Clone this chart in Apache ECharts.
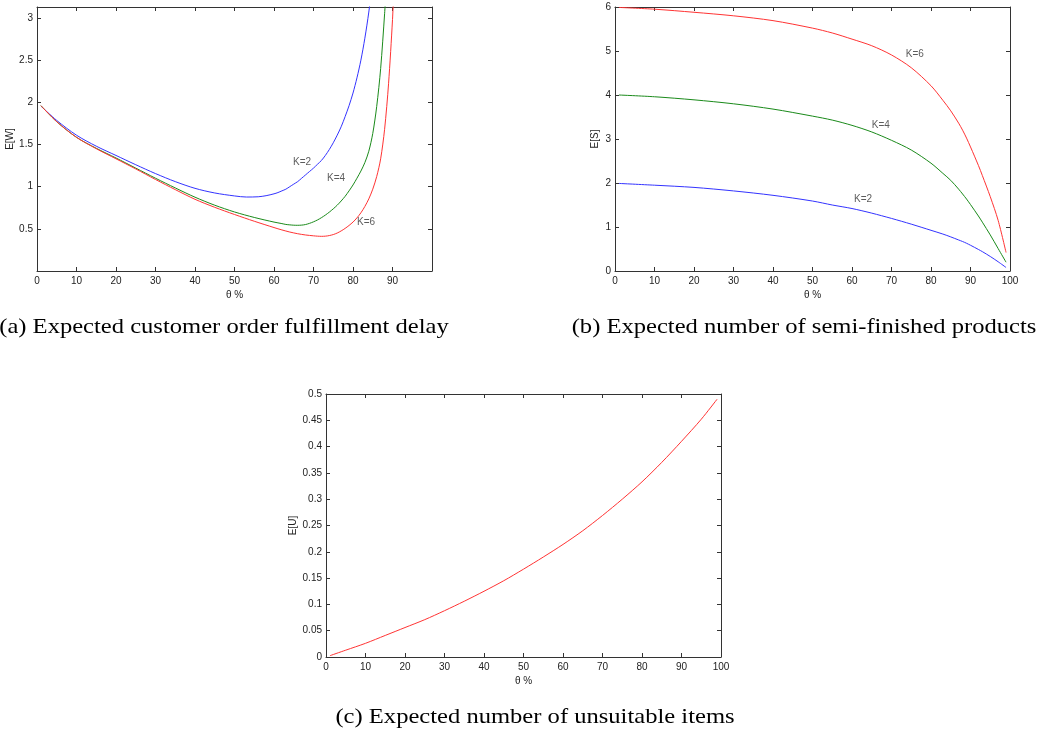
<!DOCTYPE html>
<html>
<head>
<meta charset="utf-8">
<script src="https://cdn.jsdelivr.net/npm/echarts@6/dist/echarts.min.js"></script>
<style>
  html, body { margin: 0; padding: 0; background: #fff; }
  #chart { width: 1039px; height: 729px; }
</style>
</head>
<body>
<div id="chart"></div>
<script>
// (a) E[W] vs theta
const thetaW_K2 = [1, 5, 10, 15, 20, 25, 30, 35, 40, 45, 50, 53, 56, 58, 60, 61, 62, 63, 64, 65, 66, 67, 68, 69, 70, 71, 72, 73, 74, 75, 76, 77, 78, 79, 80, 81, 82, 83, 84, 85]
const W_K2 = [1.955, 1.785, 1.61, 1.48, 1.37, 1.26, 1.155, 1.06, 0.98, 0.925, 0.89, 0.877, 0.88, 0.893, 0.915, 0.93, 0.95, 0.97, 1.0, 1.03, 1.06, 1.10, 1.14, 1.18, 1.22, 1.265, 1.31, 1.37, 1.44, 1.52, 1.61, 1.71, 1.83, 1.96, 2.11, 2.29, 2.50, 2.76, 3.07, 3.45]
const thetaW_K4 = [1, 5, 10, 15, 20, 25, 30, 35, 40, 45, 50, 55, 60, 62, 63, 64, 65, 66, 67, 68, 69, 70, 71, 72, 73, 74, 75, 76, 77, 78, 79, 80, 81, 82, 83, 84, 85, 86, 87, 88, 88.6]
const W_K4 = [1.96, 1.77, 1.585, 1.455, 1.34, 1.22, 1.10, 0.985, 0.875, 0.78, 0.70, 0.635, 0.58, 0.562, 0.552, 0.547, 0.543, 0.542, 0.544, 0.551, 0.565, 0.583, 0.605, 0.632, 0.663, 0.698, 0.737, 0.78, 0.83, 0.885, 0.95, 1.02, 1.10, 1.185, 1.285, 1.42, 1.63, 1.95, 2.40, 3.05, 3.5]
const thetaW_K6 = [1, 5, 10, 15, 20, 25, 30, 35, 40, 45, 50, 55, 60, 62, 64, 66, 68, 70, 71, 72, 73, 74, 75, 76, 77, 78, 79, 80, 81, 82, 83, 84, 85, 86, 87, 88, 89, 90, 90.5]
const W_K6 = [1.96, 1.77, 1.585, 1.45, 1.33, 1.21, 1.085, 0.965, 0.85, 0.755, 0.67, 0.59, 0.515, 0.487, 0.462, 0.442, 0.427, 0.417, 0.413, 0.411, 0.413, 0.42, 0.432, 0.45, 0.475, 0.505, 0.54, 0.58, 0.63, 0.69, 0.765, 0.855, 0.97, 1.12, 1.33, 1.68, 2.22, 2.98, 3.5]
const labelsW = [[67.1, 1.29, 'K=2'], [75.7, 1.096, 'K=4'], [83.3, 0.574, 'K=6']]

// (b) E[S] vs theta
const thetaS = [1, 10, 20, 30, 40, 50, 55, 60, 65, 70, 75, 80, 83, 85, 87, 88, 89, 90, 92, 93, 95, 97, 99]
const S_K2 = [1.99, 1.95, 1.90, 1.82, 1.72, 1.59, 1.50, 1.42, 1.315, 1.195, 1.065, 0.925, 0.84, 0.775, 0.705, 0.67, 0.63, 0.585, 0.49, 0.44, 0.33, 0.21, 0.08]
const S_K4 = [4.0, 3.96, 3.89, 3.80, 3.68, 3.52, 3.43, 3.31, 3.16, 2.97, 2.75, 2.45, 2.22, 2.06, 1.86, 1.75, 1.635, 1.51, 1.25, 1.11, 0.82, 0.51, 0.2]
const S_K6 = [5.99, 5.95, 5.88, 5.80, 5.69, 5.52, 5.41, 5.27, 5.12, 4.91, 4.62, 4.21, 3.88, 3.64, 3.36, 3.20, 3.02, 2.82, 2.40, 2.17, 1.69, 1.15, 0.42]
const labelsS = [[62.8, 1.64, 'K=2'], [67.3, 3.31, 'K=4'], [75.9, 4.93, 'K=6']]

// (c) E[U] vs theta
const thetaU = [1, 5, 10, 15, 20, 25, 30, 35, 40, 45, 50, 55, 60, 65, 70, 75, 80, 85, 90, 95, 99]
const U = [0.0025, 0.013, 0.026, 0.041, 0.056, 0.071, 0.088, 0.106, 0.125, 0.145, 0.167, 0.19, 0.214, 0.24, 0.269, 0.30, 0.333, 0.37, 0.41, 0.452, 0.49]

const captions = ['(a) Expected customer order fulfillment delay', '(b) Expected number of semi-finished products', '(c) Expected number of unsuitable items']

const BLUE = '#3333ff', GREEN = '#1a8a1a', RED = '#ff3333'
const axisColor = '#333'
const tickFont = {fontFamily: '"Liberation Sans", Arial, sans-serif', fontSize: 10, color: '#222'}

function zip(xs, ys) { return xs.map((x, i) => [x, ys[i]]) }

function xAxes(g, hideMax) {
    let base = {
        type: 'value', gridIndex: g, min: 0, max: 100, interval: 10,
        axisLine: {show: true, onZero: false, lineStyle: {color: axisColor, width: 1}},
        axisTick: {show: true, inside: true, length: 4, lineStyle: {color: axisColor}},
        splitLine: {show: false}
    }
    return [
        Object.assign({}, base, {
            position: 'bottom', name: 'θ %', nameLocation: 'middle', nameGap: 19,
            nameTextStyle: tickFont,
            axisLabel: Object.assign({margin: 5, showMaxLabel: !hideMax}, tickFont)
        }),
        Object.assign({}, base, {position: 'top', axisLabel: {show: false}})
    ]
}

function yAxes(g, min, max, interval, name, gap, opts) {
    let base = {
        type: 'value', gridIndex: g, min: min, max: max, interval: interval,
        axisLine: {show: true, onZero: false, lineStyle: {color: axisColor, width: 1}},
        axisTick: {show: true, inside: true, length: 4, lineStyle: {color: axisColor}},
        splitLine: {show: false}
    }
    return [
        Object.assign({}, base, {
            position: 'left', name: name, nameLocation: 'middle', nameGap: gap,
            nameTextStyle: tickFont,
            axisLabel: Object.assign({margin: 4}, tickFont, opts || {})
        }),
        Object.assign({}, base, {position: 'right', axisLabel: {show: false}})
    ]
}

function line(xi, yi, data, color) {
    return {
        type: 'line', xAxisIndex: xi, yAxisIndex: yi, data: data,
        showSymbol: false, smooth: 0.3, clip: true, silent: true,
        lineStyle: {color: color, width: 1}
    }
}

function labels(xi, yi, data) {
    return {
        type: 'scatter', xAxisIndex: xi, yAxisIndex: yi, data: data,
        symbolSize: 0, silent: true,
        label: {show: true, position: 'inside', formatter: p => p.value[2],
            fontFamily: tickFont.fontFamily, fontSize: 10, color: '#333'}
    }
}

function caption(text, x, y) {
    return {
        type: 'text', x: x, y: y, scaleX: 1.17, silent: true,
        style: {text: text, font: '21px "Liberation Serif", "DejaVu Serif", serif',
            fill: '#000', align: 'center', verticalAlign: 'middle'}
    }
}

let chart = echarts.init(document.getElementById('chart'), null, {renderer: 'canvas'})

chart.setOption({
    animation: false,
    backgroundColor: '#fff',
    grid: [
        {left: 37, top: 7, width: 395, height: 264},
        {left: 615, top: 7, width: 395, height: 264},
        {left: 326, top: 394, width: 395, height: 263}
    ],
    xAxis: [].concat(xAxes(0, true), xAxes(1, false), xAxes(2, false)),
    yAxis: [].concat(
        yAxes(0, 0, 3.13, 0.5, 'E[W]', 22, {showMinLabel: false, showMaxLabel: false}),
        yAxes(1, 0, 6, 1, 'E[S]', 15),
        yAxes(2, 0, 0.5, 0.05, 'E[U]', 28)
    ),
    series: [
        line(0, 0, zip(thetaW_K2, W_K2), BLUE),
        line(0, 0, zip(thetaW_K4, W_K4), GREEN),
        line(0, 0, zip(thetaW_K6, W_K6), RED),
        labels(0, 0, labelsW),
        line(2, 2, zip(thetaS, S_K2), BLUE),
        line(2, 2, zip(thetaS, S_K4), GREEN),
        line(2, 2, zip(thetaS, S_K6), RED),
        labels(2, 2, labelsS),
        line(4, 4, zip(thetaU, U), RED)
    ],
    graphic: [
        caption(captions[0], 224, 327),
        caption(captions[1], 804, 327),
        caption(captions[2], 535, 717)
    ]
})
</script>
</body>
</html>
